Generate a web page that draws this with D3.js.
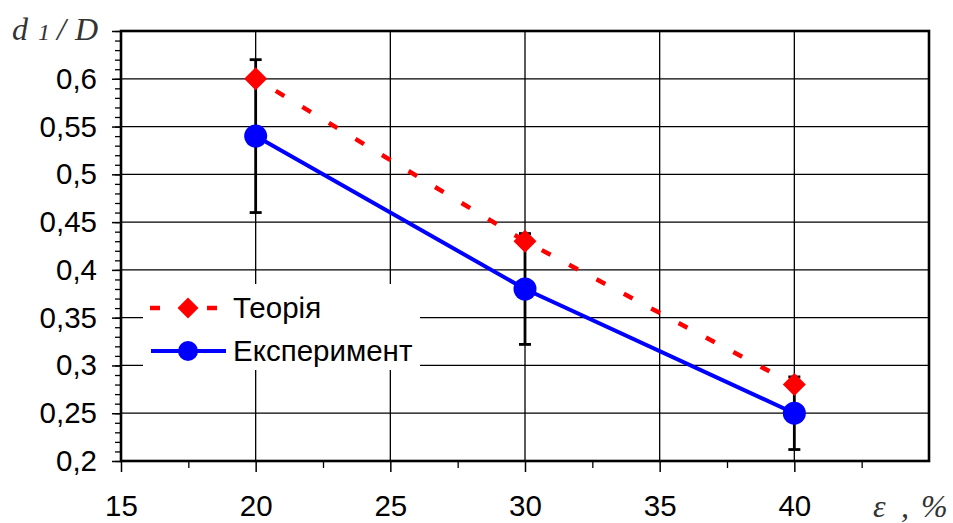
<!DOCTYPE html>
<html>
<head>
<meta charset="utf-8">
<script src="https://cdn.jsdelivr.net/npm/d3@7"></script>
<style>
  body { margin: 0; background: #fff; }
</style>
</head>
<body>
<div id="chart"></div>
<script>
// Data
const strain = [20, 30, 40]
const theory = [0.60, 0.43, 0.28]
const experiment = [0.54, 0.38, 0.25]
const expError = [0.08, 0.058, 0.038]
const seriesNames = ['Теорія', 'Експеримент']
const xTicks = [15, 20, 25, 30, 35, 40]
const yTicks = [0.2, 0.25, 0.3, 0.35, 0.4, 0.45, 0.5, 0.55, 0.6]

const sans = 'Arial, "Liberation Sans", sans-serif'
const serif = '"Liberation Serif", "Times New Roman", serif'

// Dimension
const dimension = {
    width: 953,
    height: 523,
    margin: { top: 31, bottom: 62, left: 121, right: 24 }
}
dimension.ctrwidth = dimension.width - dimension.margin.left - dimension.margin.right
dimension.ctrheight = dimension.height - dimension.margin.top - dimension.margin.bottom

const svg = d3.select('#chart')
    .append('svg')
    .attr('width', dimension.width)
    .attr('height', dimension.height)

const ctr = svg.append('g')
    .attr('transform', `translate(${dimension.margin.left}, ${dimension.margin.top})`)

// Scales
const xScale = d3.scaleLinear()
    .domain([15, 45])
    .range([0, dimension.ctrwidth])

const yScale = d3.scaleLinear()
    .domain([0.2, 0.65])
    .range([dimension.ctrheight, 0])

const fmt = d => String(d).replace('.', ',')

// Grid
ctr.append('g')
    .selectAll('line')
    .data(d3.range(0.25, 0.64, 0.05))
    .join('line')
    .attr('x1', 0).attr('x2', dimension.ctrwidth)
    .attr('y1', d => yScale(d)).attr('y2', d => yScale(d))
    .attr('stroke', '#000').attr('stroke-width', 1.3)

ctr.append('g')
    .selectAll('line')
    .data([20, 25, 30, 35, 40])
    .join('line')
    .attr('x1', d => xScale(d)).attr('x2', d => xScale(d))
    .attr('y1', 0).attr('y2', dimension.ctrheight)
    .attr('stroke', '#000').attr('stroke-width', 1.3)

// Axes
const yAxis = d3.axisLeft(yScale)
    .tickValues(d3.range(0.2, 0.655, 0.05))
    .tickSize(9)
    .tickFormat(d => yTicks.some(t => Math.abs(t - d) < 1e-6) ? fmt(+d.toFixed(2)) : '')
const yAxisGroup = ctr.append('g').call(yAxis)
yAxisGroup.select('.domain').remove()
yAxisGroup.selectAll('line').attr('stroke-width', 1.5)
yAxisGroup.selectAll('text')
    .attr('x', -24)
    .style('font-size', '29.5px')
    .style('font-family', sans)
    .attr('fill', '#000')

const yMinor = d3.axisLeft(yScale)
    .tickValues(d3.range(0.2, 0.651, 0.01))
    .tickSize(6)
    .tickFormat('')
const yMinorGroup = ctr.append('g').call(yMinor)
yMinorGroup.select('.domain').remove()
yMinorGroup.selectAll('line').attr('stroke-width', 1.3)

const xAxis = d3.axisBottom(xScale)
    .tickValues(xTicks)
    .tickSize(11)
    .tickFormat(d3.format('d'))
const xAxisGroup = ctr.append('g')
    .attr('transform', `translate(0, ${dimension.ctrheight})`)
    .call(xAxis)
xAxisGroup.select('.domain').remove()
xAxisGroup.selectAll('line').attr('stroke-width', 1.5)
xAxisGroup.selectAll('text')
    .attr('y', 55)
    .attr('dy', 0)
    .style('font-size', '29.5px')
    .style('font-family', sans)
    .attr('fill', '#000')

const xMinor = d3.axisBottom(xScale)
    .tickValues([17.5, 22.5, 27.5, 32.5, 37.5, 42.5])
    .tickSize(7)
    .tickFormat('')
const xMinorGroup = ctr.append('g')
    .attr('transform', `translate(0, ${dimension.ctrheight})`)
    .call(xMinor)
xMinorGroup.select('.domain').remove()
xMinorGroup.selectAll('line').attr('stroke-width', 1.3)

// Frame
ctr.append('rect')
    .attr('width', dimension.ctrwidth)
    .attr('height', dimension.ctrheight)
    .attr('fill', 'none')
    .attr('stroke', '#000')
    .attr('stroke-width', 2.6)

// Error bars
const errors = ctr.append('g')
    .attr('stroke', '#000')
    .attr('stroke-width', 2.8)
strain.forEach((s, i) => {
    const x = xScale(s)
    const lo = yScale(experiment[i] - expError[i])
    const hi = yScale(experiment[i] + expError[i])
    errors.append('line').attr('x1', x).attr('x2', x).attr('y1', lo).attr('y2', hi)
    errors.append('line').attr('x1', x - 6).attr('x2', x + 6).attr('y1', lo).attr('y2', lo)
    errors.append('line').attr('x1', x - 6).attr('x2', x + 6).attr('y1', hi).attr('y2', hi)
})

// Lines
const line = d3.line()
    .x((d, i) => xScale(strain[i]))
    .y(d => yScale(d))

ctr.append('path')
    .datum(theory)
    .attr('d', line)
    .attr('fill', 'none')
    .attr('stroke', '#ff0000')
    .attr('stroke-width', 4.5)
    .attr('stroke-dasharray', '10,21')
    .attr('stroke-dashoffset', 7.5)

ctr.append('path')
    .datum(experiment)
    .attr('d', line)
    .attr('fill', 'none')
    .attr('stroke', '#0000ff')
    .attr('stroke-width', 4)

const diamond = d3.symbol(d3.symbolSquare, 265)

ctr.append('g')
    .selectAll('path')
    .data(theory)
    .join('path')
    .attr('d', diamond)
    .attr('transform', (d, i) => `translate(${xScale(strain[i])}, ${yScale(d)}) rotate(45)`)
    .attr('fill', '#ff0000')

ctr.append('g')
    .selectAll('circle')
    .data(experiment)
    .join('circle')
    .attr('cx', (d, i) => xScale(strain[i]))
    .attr('cy', d => yScale(d))
    .attr('r', 11.5)
    .attr('fill', '#0000ff')

// Legend
const legend = svg.append('g')
legend.append('rect')
    .attr('x', 143).attr('y', 284)
    .attr('width', 277).attr('height', 86)
    .attr('fill', '#fff')

legend.append('line')
    .attr('x1', 150).attr('x2', 218)
    .attr('y1', 308).attr('y2', 308)
    .attr('stroke', '#ff0000')
    .attr('stroke-width', 4.5)
    .attr('stroke-dasharray', '10,47')
legend.append('path')
    .attr('d', d3.symbol(d3.symbolSquare, 220))
    .attr('transform', 'translate(188, 308) rotate(45)')
    .attr('fill', '#ff0000')
legend.append('text')
    .attr('x', 233).attr('y', 318)
    .style('font-size', '29.5px')
    .style('font-family', sans)
    .text(seriesNames[0])

legend.append('line')
    .attr('x1', 151).attr('x2', 226)
    .attr('y1', 351).attr('y2', 351)
    .attr('stroke', '#0000ff')
    .attr('stroke-width', 4)
legend.append('circle')
    .attr('cx', 188).attr('cy', 351)
    .attr('r', 10)
    .attr('fill', '#0000ff')
legend.append('text')
    .attr('x', 233).attr('y', 361)
    .style('font-size', '29.5px')
    .style('font-family', sans)
    .text(seriesNames[1])

// Axis titles
const yTitle = svg.append('text')
    .attr('y', 40)
    .style('font-family', serif)
    .style('font-style', 'italic')
    .style('font-size', '32px')
    .attr('fill', '#333')
yTitle.append('tspan').attr('x', 12).text('d')
yTitle.append('tspan').attr('x', 38).style('font-size', '24px').text('1')
yTitle.append('tspan').attr('x', 57).text('/')
yTitle.append('tspan').attr('x', 75).text('D')

const xTitle = svg.append('text')
    .attr('y', 517)
    .style('font-family', serif)
    .style('font-style', 'italic')
    .style('font-size', '32px')
    .attr('fill', '#333')
xTitle.append('tspan').attr('x', 873).text('ε')
xTitle.append('tspan').attr('x', 901).text(',')
xTitle.append('tspan').attr('x', 921).text('%')
</script>
</body>
</html>
